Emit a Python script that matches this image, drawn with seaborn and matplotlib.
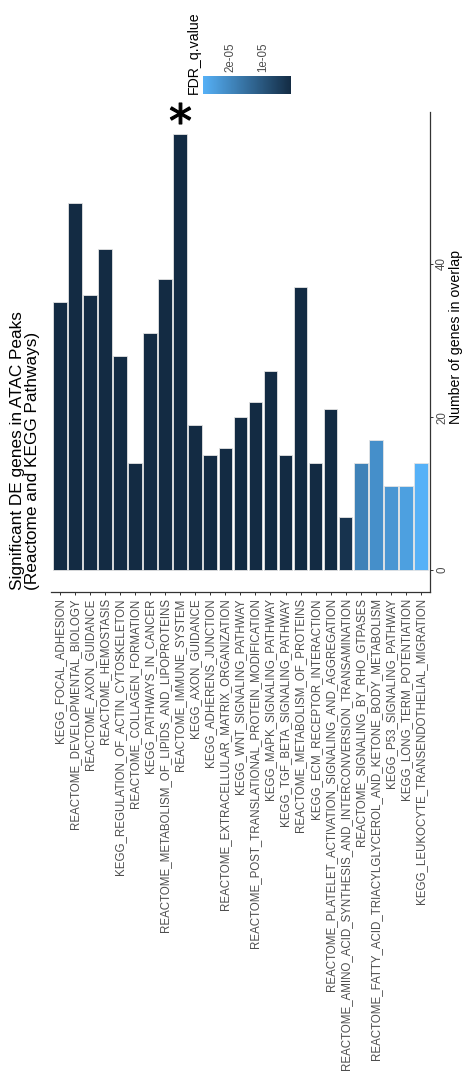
import numpy as np
import pandas as pd
import matplotlib
matplotlib.use("Agg")
import matplotlib.pyplot as plt
import seaborn as sns
from matplotlib.colors import LinearSegmentedColormap, Normalize
from matplotlib.cm import ScalarMappable

# ---------------- data ----------------
pathways = [
    "KEGG_FOCAL_ADHESION",
    "REACTOME_DEVELOPMENTAL_BIOLOGY",
    "REACTOME_AXON_GUIDANCE",
    "REACTOME_HEMOSTASIS",
    "KEGG_REGULATION_OF_ACTIN_CYTOSKELETON",
    "REACTOME_COLLAGEN_FORMATION",
    "KEGG_PATHWAYS_IN_CANCER",
    "REACTOME_METABOLISM_OF_LIPIDS_AND_LIPOPROTEINS",
    "REACTOME_IMMUNE_SYSTEM",
    "KEGG_AXON_GUIDANCE",
    "KEGG_ADHERENS_JUNCTION",
    "REACTOME_EXTRACELLULAR_MATRIX_ORGANIZATION",
    "KEGG_WNT_SIGNALING_PATHWAY",
    "REACTOME_POST_TRANSLATIONAL_PROTEIN_MODIFICATION",
    "KEGG_MAPK_SIGNALING_PATHWAY",
    "KEGG_TGF_BETA_SIGNALING_PATHWAY",
    "REACTOME_METABOLISM_OF_PROTEINS",
    "KEGG_ECM_RECEPTOR_INTERACTION",
    "REACTOME_PLATELET_ACTIVATION_SIGNALING_AND_AGGREGATION",
    "REACTOME_AMINO_ACID_SYNTHESIS_AND_INTERCONVERSION_TRANSAMINATION",
    "REACTOME_SIGNALING_BY_RHO_GTPASES",
    "REACTOME_FATTY_ACID_TRIACYLGLYCEROL_AND_KETONE_BODY_METABOLISM",
    "KEGG_P53_SIGNALING_PATHWAY",
    "KEGG_LONG_TERM_POTENTIATION",
    "KEGG_LEUKOCYTE_TRANSENDOTHELIAL_MIGRATION",
]
gene_counts = [35, 48, 36, 42, 28, 14, 31, 38, 57, 19, 15, 16, 20, 22, 26,
               15, 37, 14, 21, 7, 14, 17, 11, 11, 14]
fdr_q = [1.24e-06, 1.24e-06, 1.24e-06, 1.24e-06, 1.24e-06, 1.24e-06,
         1.24e-06, 1.24e-06, 1.24e-06, 1.24e-06, 1.24e-06, 1.24e-06,
         1.24e-06, 1.24e-06, 1.24e-06, 1.24e-06, 1.24e-06, 1.24e-06,
         1.24e-06, 2.9e-06, 1.91e-05, 2.18e-05, 2.32e-05, 2.51e-05, 2.87e-05]
cbar_ticks = [2e-05, 1e-05]
cbar_ticklabels = ["2e-05", "1e-05"]
value_ticks = [0, 20, 40]
title = "Significant DE genes in ATAC Peaks\n(Reactome and KEGG Pathways)"
value_label = "Number of genes in overlap"
legend_title = "FDR_q.value"

# ---------------- style ----------------
sns.set_theme(style="ticks")
plt.rcParams["font.family"] = ["Liberation Sans", "DejaVu Sans"]

W, H = 462, 1072
fig = plt.figure(figsize=(W / 100, H / 100), dpi=100)
fig.patch.set_facecolor("white")

def fx(px):
    return px / W

def fy(py):
    return 1 - py / H

# panel: x 50.7..430, y 112..592 (pixels)
ax = fig.add_axes([fx(50.7), fy(592), fx(430) - fx(50.7), (592 - 112) / H])

cmap = LinearSegmentedColormap.from_list("fdr", ["#132B43", "#56B1F7"])
norm = Normalize(vmin=min(fdr_q), vmax=max(fdr_q))

df = pd.DataFrame({"pathway": pathways, "count": gene_counts, "q": fdr_q})
palette = {p: cmap(norm(q)) for p, q in zip(pathways, fdr_q)}

sns.barplot(data=df, x="pathway", y="count", hue="pathway", order=pathways,
            hue_order=pathways, palette=palette, dodge=False, legend=False,
            width=0.9, saturation=1, edgecolor="#e4e4e4", linewidth=0.6, ax=ax)

n = len(pathways)
ymax = max(gene_counts) * 1.05
ax.set_xlim(-0.6, n - 1 + 0.6)
ax.set_ylim(-max(gene_counts) * 0.05, ymax)
ax.set_xlabel("")
ax.set_ylabel("")

for s in ["top", "left"]:
    ax.spines[s].set_visible(False)
for s in ["bottom", "right"]:
    ax.spines[s].set_color("#333333")
    ax.spines[s].set_linewidth(0.9)

ax.yaxis.tick_right()
ax.set_yticks(value_ticks)
ax.set_yticklabels([str(v) for v in value_ticks], rotation=90, va="center", ha="left")
ax.tick_params(axis="y", which="major", right=True, left=False, length=2.5,
               width=0.7, color="#333333", labelsize=8.3, labelcolor="#4D4D4D", pad=2)
ax.tick_params(axis="x", which="major", bottom=True, length=2.5, width=0.7,
               color="#333333", labelsize=8.3, labelcolor="#4D4D4D", pad=2)
plt.setp(ax.get_xticklabels(), rotation=90, ha="center", va="top")

# significance star above the largest bar
imax = int(np.argmax(gene_counts))
ax.plot([imax], [gene_counts[imax] + 2.7], marker="$*$", markersize=15,
        color="black", mew=0.9, linestyle="none", clip_on=False)

# ---------------- text ----------------
fig.text(fx(10), fy(590), title, rotation=90, ha="left", va="bottom",
         fontsize=12.4, linespacing=1.0, multialignment="left", color="black")
fig.text(fx(456), fy(337), value_label, rotation=90, ha="center", va="center",
         fontsize=10.2, color="black")
fig.text(fx(194), fy(94), legend_title, rotation=90, ha="center", va="bottom",
         fontsize=10.2, color="black")

# ---------------- colour bar ----------------
cax = fig.add_axes([fx(202.7), fy(94), (291.3 - 202.7) / W, (94 - 76.3) / H])
sm = ScalarMappable(norm=norm, cmap=cmap)
cb = fig.colorbar(sm, cax=cax, orientation="horizontal")
cb.outline.set_visible(False)
cax.invert_xaxis()
cb.set_ticks(cbar_ticks)
cb.set_ticklabels(cbar_ticklabels)
cax.minorticks_off()
cax.tick_params(axis="x", which="major", direction="in", length=3.5, width=0.8,
                color="white", top=True, bottom=True, labeltop=True,
                labelbottom=False, labelsize=8.3, labelcolor="#4D4D4D", pad=3,
                labelrotation=90)

fig.savefig("out.png", dpi=100)
